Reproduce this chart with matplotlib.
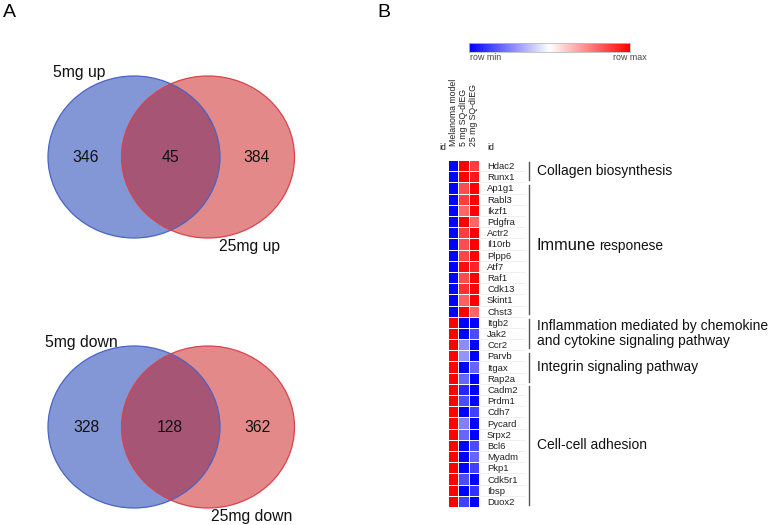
import numpy as np
import matplotlib
matplotlib.use('Agg')
import matplotlib.pyplot as plt
from matplotlib.patches import Ellipse
from matplotlib.colors import LinearSegmentedColormap

plt.rcParams['font.family'] = ['Liberation Sans', 'DejaVu Sans']

# ---- data ----
venn_up_labels = ['5mg up', '25mg up']
venn_up_counts = [346, 45, 384]
venn_down_labels = ['5mg down', '25mg down']
venn_down_counts = [328, 128, 362]

heat_columns = ['Melanoma model', '5 mg SQ-dIEG', '25 mg SQ-dIEG']
genes = ['Hdac2', 'Runx1', 'Ap1g1', 'Rabl3', 'Ikzf1', 'Pdgfra', 'Actr2', 'Il10rb',
         'Plpp6', 'Atf7', 'Raf1', 'Cdk13', 'Skint1', 'Chst3', 'Itgb2', 'Jak2',
         'Ccr2', 'Parvb', 'Itgax', 'Rap2a', 'Cadm2', 'Prdm1', 'Cdh7', 'Pycard',
         'Srpx2', 'Bcl6', 'Myadm', 'Pkp1', 'Cdk5r1', 'Ibsp', 'Duox2']
melanoma = [-1, -1, -1, -1, -1, -1, -1, -1, -1, -1, -1, -1, -1, -1,
            1, 1, 1, 1, 1, 1, 1, 1, 1, 1, 1, 1, 1, 1, 1, 1, 1]
sq5 = [1.0, 1.0, 0.7, 0.75, 0.6, 1.0, 0.75, 0.7, 0.72, 0.95, 0.7, 0.8, 0.62, 1.0,
       -1.0, -1.0, -0.45, -0.42, -1.0, -0.6, -0.85, -0.7, -1.0, -0.5,
       -0.6, -1.0, -1.0, -1.0, -0.7, -1.0, -0.75]
sq25 = [0.75, 0.9, 1.0, 1.0, 1.0, 0.6, 1.0, 1.0, 1.0, 0.85, 1.0, 1.0, 1.0, 0.6,
        -1.0, -0.7, -1.0, -1.0, -0.6, -1.0, -1.0, -1.0, -0.75, -1.0,
        -1.0, -0.7, -0.6, -0.75, -1.0, -0.8, -1.0]

groups = ['Collagen biosynthesis', 'Immune', 'Inflammation mediated by chemokine\nand cytokine signaling pathway',
          'Integrin signaling pathway', 'Cell-cell adhesion']
group_rows = [(0, 1), (2, 13), (14, 16), (17, 19), (20, 30)]

# ---- figure ----
fig = plt.figure(figsize=(7.77, 5.25), dpi=100)
ax0 = fig.add_axes([0, 0, 1, 1])
ax0.set_xlim(0, 777)
ax0.set_ylim(525, 0)
ax0.axis('off')

blue_fill = (9/255, 47/255, 173/255)
red_fill = (203/255, 21/255, 21/255)
blue_edge = '#4a64c8'
red_edge = '#d8434c'


def venn(ax, cy, labels, counts, dx_lab):
    e1 = Ellipse((134, cy), 172, 162, facecolor=blue_fill, alpha=0.5, edgecolor='none')
    e2 = Ellipse((208, cy), 173, 162, facecolor=red_fill, alpha=0.5, edgecolor='none')
    ax.add_patch(e1)
    ax.add_patch(e2)
    ax.add_patch(Ellipse((134, cy), 172, 162, fill=False, edgecolor=blue_edge, lw=0.9))
    ax.add_patch(Ellipse((208, cy), 173, 162, fill=False, edgecolor=red_edge, lw=0.9))
    for x, c in zip([86, 170, 257], counts):
        ax.text(x, cy, str(c), ha='center', va='center', fontsize=11.3, color='#111111')
    ax.text(dx_lab[0], cy - 84, labels[0], ha='left', va='center', fontsize=11.3, color='#111111')
    ax.text(dx_lab[1], cy + 89, labels[1], ha='left', va='center', fontsize=11.3, color='#111111')


venn(ax0, 157, venn_up_labels, venn_up_counts, (53, 219))
venn(ax0, 427, venn_down_labels, venn_down_counts, (45, 211))

ax0.text(3, 4, 'A', fontsize=14, va='top', ha='left')
ax0.text(377, 4, 'B', fontsize=14, va='top', ha='left')

# ---- heatmap ----
cmap = LinearSegmentedColormap.from_list('rowminmax', ['#0000ff', '#ffffff', '#ff0000'])
values = np.array([melanoma, sq5, sq25]).T

ax = fig.add_axes([448/777, 1 - 507/525, 31/777, 347/525])
ax.pcolormesh(values, cmap=cmap, vmin=-1, vmax=1, edgecolors='white', linewidth=0.6)
ax.set_ylim(len(genes), 0)
ax.set_xlim(0, 3)
ax.yaxis.tick_right()
ax.set_yticks(np.arange(len(genes)) + 0.5)
ax.set_yticklabels(genes, fontsize=6.8, color='#222222')
ax.xaxis.tick_top()
ax.set_xticks(np.arange(3) + 0.5)
ax.set_xticklabels(heat_columns, rotation=90, fontsize=6.3, color='#222222')
ax.tick_params(axis='y', length=0, pad=5.8)
ax.tick_params(axis='x', length=0, pad=10)
for s in ax.spines.values():
    s.set_visible(False)

# faint row separators next to gene names
trans = ax.get_yaxis_transform()
for i in range(1, len(genes)):
    ax.plot([1.02, 2.5], [i, i], transform=trans, color='#eeeeee', lw=0.6, clip_on=False)

# group brackets and labels
for (r0, r1), g in zip(group_rows, groups):
    ax.plot([2.61, 2.61], [r0 + 0.2, r1 + 0.8], transform=trans, color='#555555', lw=1.0,
            clip_on=False)
    mid = (r0 + r1 + 1) / 2
    if g == 'Immune':
        t = ax.text(2.87, mid, g, transform=trans, fontsize=11.8, va='baseline', ha='left',
                    color='#111111')
        ax.annotate('responese', xy=(1, 0), xycoords=t, xytext=(2, 0),
                    textcoords='offset points', fontsize=9.9, va='bottom', ha='left',
                    color='#111111')
    else:
        ax.text(2.87, mid, g, transform=trans, fontsize=10, va='center', ha='left',
                color='#111111', linespacing=1.15)

ax0.text(443, 148, 'id', fontsize=6.3, ha='center', va='center', color='#222222')
ax0.text(491, 148, 'id', fontsize=6.3, ha='center', va='center', color='#222222')

# ---- colour key ----
axc = fig.add_axes([469/777, 1 - 52/525, 161/777, 9/525])
axc.imshow(np.linspace(-1, 1, 256)[None, :], aspect='auto', cmap=cmap, vmin=-1, vmax=1)
axc.set_xticks([])
axc.set_yticks([])
for s in axc.spines.values():
    s.set_color('#bbbbbb')
    s.set_linewidth(0.6)
ax0.text(470, 58, 'row min', fontsize=6.4, ha='left', va='center', color='#444444')
ax0.text(647, 58, 'row max', fontsize=6.4, ha='right', va='center', color='#444444')

fig.savefig('out.png', dpi=100)
